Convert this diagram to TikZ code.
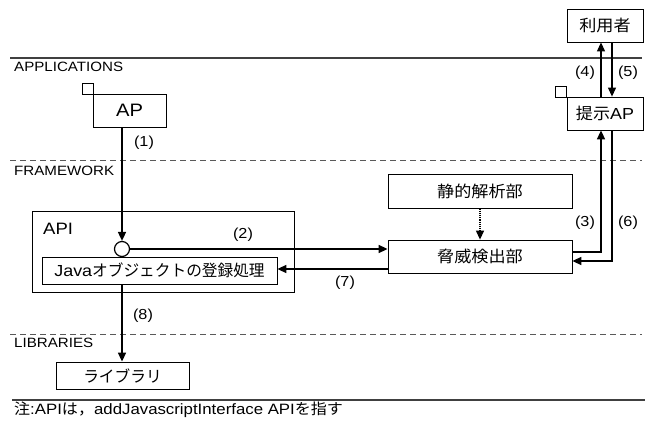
\documentclass[tikz,border=0pt]{standalone}
\usepackage{fontspec}
\setmainfont[FakeStretch=1.12]{Liberation Sans}
\newfontfamily\jp[FakeStretch=1.07]{Noto Sans CJK JP}
\newfontfamily\jpn[FakeStretch=0.98]{Noto Sans CJK JP}
\usetikzlibrary{arrows.meta}
\begin{document}
\begin{tikzpicture}[x=1pt,y=-1pt,
  box/.style={draw, line width=0.8pt, inner sep=0pt, font=\fontsize{16}{18}\selectfont},
  sect/.style={anchor=west, inner sep=0pt, font=\fontsize{13.5}{15}\selectfont},
  lbl/.style={inner sep=0pt, font=\fontsize{14.5}{16}\selectfont},
  sep/.style={line width=1.2pt, draw=black!75},
  dsep/.style={line width=1pt, draw=black!65, dash pattern=on 6pt off 4pt},
  arr/.style={line width=1.6pt, -{Triangle[length=9pt,width=8pt]}},
  tarr/.style={line width=1.1pt, -{Triangle[length=9pt,width=8pt]}},
  sq/.style={draw, line width=0.8pt, inner sep=0pt, minimum size=11pt}]
\useasboundingbox (0,0) rectangle (646,425);
% separators
\draw[sep] (10,58) -- (642,58);
\draw[dsep] (10,161) -- (642,161);
\draw[dsep] (10,334) -- (642,334);
\draw[sep] (12,400) -- (645,400);
\node[sect] (sapp) at (14,67) {APPLICATIONS};
\node[sect] (sfw) at (14,171) {FRAMEWORK};
\node[sect] (slib) at (14,343) {LIBRARIES};
% boxes
\node[sq] (sq1) at (87.5,88.5) {};
\node[box, minimum width=73pt, minimum height=33pt, font=\fontsize{18}{20}\selectfont] (ap) at (129.5,110.5) {AP};
\node[box, minimum width=76pt, minimum height=33pt] (user) at (605,25.5) {\jp 利用者};
\node[sq] (sq2) at (561,91.5) {};
\node[box, minimum width=76pt, minimum height=33pt] (pres) at (605,113.5) {{\jp 提示}AP};
\node[box, minimum width=184pt, minimum height=34pt] (stat) at (480,191) {\jp 静的解析部};
\node[box, minimum width=184pt, minimum height=33pt] (thr) at (480,256.5) {\jp 脅威検出部};
\node[box, minimum width=262pt, minimum height=81pt] (api) at (163,251.5) {};
\node[sect, font=\fontsize{16.5}{18}\selectfont] (apil) at (43,229) {API};
\node[box, minimum width=235pt, minimum height=27pt] (java) at (159.5,270.5) {Java{\jpn オブジェクトの登録処理}};
\node[box, minimum width=133pt, minimum height=27pt] (lib) at (122.5,375.5) {\jpn ライブラリ};
\node[draw, circle, line width=1.2pt, minimum size=15pt, inner sep=0pt] (circ) at (122,249) {};
\coordinate (p3) at (601,252);
\coordinate (p6) at (612,261);
% connectors
\draw[arr] (circ.north |- ap.south) -- (circ.north);
\draw[arr] (circ.east) -- (circ.east -| thr.west);
\draw[arr] (thr.west |- 0,269) -- (java.east |- 0,269);
\draw[arr] (java.south -| circ) -- (lib.north -| circ);
\draw[line width=1.2pt, densely dotted, -{Triangle[length=9pt,width=8pt]}] (stat.south) -- (thr.north);
\draw[arr] (thr.east |- p3) -| (pres.south -| p3);
\draw[arr] (pres.south -| p6) |- (thr.east |- p6);
\draw[tarr] (pres.north -| p3) -- (user.south -| p3);
\draw[tarr] (user.south -| p6) -- (pres.north -| p6);
% labels
\node[lbl] (l1) at (144,143) {(1)};
\node[lbl] (l2) at (243,235) {(2)};
\node[lbl] (l3) at (585,223) {(3)};
\node[lbl] (l4) at (585,73) {(4)};
\node[lbl] (l5) at (628,73) {(5)};
\node[lbl] (l6) at (628,223) {(6)};
\node[lbl] (l7) at (345,283) {(7)};
\node[lbl] (l8) at (143,316) {(8)};
\node[sect, font=\fontsize{15}{17}\selectfont] (note) at (14,410) {{\jp 注}:API{\jp は，}addJavascriptInterface API{\jp を指す}};
\end{tikzpicture}
\end{document}
